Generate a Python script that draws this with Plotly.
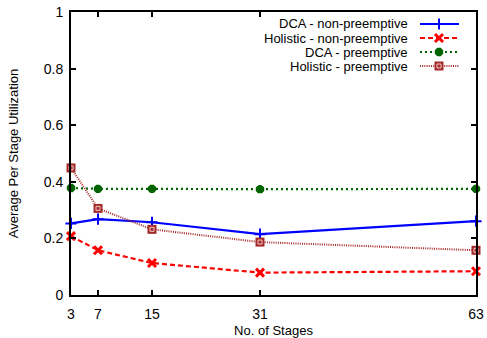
import plotly.graph_objects as go

stages = [3, 7, 15, 31, 63]
dca_nonpre = [0.253, 0.268, 0.257, 0.215, 0.261]
hol_nonpre = [0.208, 0.158, 0.113, 0.079, 0.084]
dca_pre = [0.378, 0.375, 0.375, 0.374, 0.375]
hol_pre = [0.449, 0.306, 0.232, 0.187, 0.158]
names = ["DCA - non-preemptive", "Holistic - non-preemptive",
         "DCA - preemptive", "Holistic - preemptive"]
y_ticks = [0, 0.2, 0.4, 0.6, 0.8, 1]
y_tick_text = ["0", "0.2", "0.4", "0.6", "0.8", "1"]

FONT = "Liberation Sans, Arial, sans-serif"
W, H = 487, 338
L, R, T, B = 71, 11, 12, 43

styles = [
    dict(line=dict(color="#0000ff", width=2.2),
         marker=dict(symbol="cross-thin-open", size=8, color="#0000ff",
                     line=dict(color="#0000ff", width=2))),
    dict(line=dict(color="#ff0000", width=2.2, dash="5px,3px"),
         marker=dict(symbol="x-thin-open", size=8, color="#ff0000",
                     line=dict(color="#ff0000", width=3))),
    dict(line=dict(color="#006400", width=2.2, dash="2px,3px"),
         marker=dict(symbol="asterisk-open", size=7, color="#006400",
                     line=dict(color="#006400", width=3.5))),
    dict(line=dict(color="#a52a2a", width=2, dash="1px,1.2px"),
         marker=dict(symbol="square", size=9, color="#a52a2a", line=dict(width=0))),
]
series = [dca_nonpre, hol_nonpre, dca_pre, hol_pre]
inner_box = dict(symbol="square-open", size=4, color="#f0c8c8",
                 line=dict(color="#f0c8c8", width=1))

fig = go.Figure()
for name, ys, st in zip(names, series, styles):
    fig.add_trace(go.Scatter(x=stages, y=ys, mode="lines+markers", name=name,
                             line=st["line"], marker=st["marker"], showlegend=False,
                             cliponaxis=False))
# inner light box of the brown square markers
fig.add_trace(go.Scatter(x=stages, y=hol_pre, mode="markers", showlegend=False,
                         marker=inner_box, cliponaxis=False))

# custom gnuplot-style legend (text right, sample on the right)
pw, ph = W - L - R, H - T - B
def px(x): return (x - L) / pw
def py(y): return (H - B - y) / ph
rows = [24, 38, 52, 66]
for name, st, ry in zip(names, styles, rows):
    fig.add_annotation(x=px(410), y=py(ry), xref="paper", yref="paper", text=name,
                       showarrow=False, xanchor="right", yanchor="middle",
                       font=dict(family=FONT, size=13, color="black"))
    fig.add_trace(go.Scatter(x=[px(420), px(439), px(459)], y=[py(ry)] * 3,
                             xaxis="x2", yaxis="y2", mode="lines", showlegend=False,
                             line=st["line"], hoverinfo="skip"))
    fig.add_trace(go.Scatter(x=[px(439)], y=[py(ry)], xaxis="x2", yaxis="y2",
                             mode="markers", showlegend=False, marker=st["marker"],
                             hoverinfo="skip"))
fig.add_trace(go.Scatter(x=[px(439)], y=[py(rows[3])], xaxis="x2", yaxis="y2",
                         mode="markers", showlegend=False, hoverinfo="skip",
                         marker=inner_box))

fig.update_layout(
    width=W, height=H,
    margin=dict(l=L, r=R, t=T, b=B),
    paper_bgcolor="white", plot_bgcolor="white",
    font=dict(family=FONT, size=13, color="black"),
    xaxis=dict(range=[3, 63], tickvals=stages, ticks="inside", ticklen=5,
               tickwidth=1.5, tickcolor="black", mirror="ticks", showline=True,
               linecolor="black", linewidth=2, showgrid=False, zeroline=False,
               ticklabelstandoff=5, automargin=False,
               title=dict(text="No. of Stages", font=dict(size=13), standoff=8),
               tickfont=dict(size=14)),
    yaxis=dict(range=[0, 1], tickvals=y_ticks, ticktext=y_tick_text, ticks="inside",
               ticklen=5, tickwidth=1.5, tickcolor="black", mirror="ticks",
               showline=True, linecolor="black", linewidth=2, showgrid=False,
               zeroline=False, ticklabelstandoff=3, automargin=False,
               title=dict(text="Average Per Stage Utilization", font=dict(size=13),
                          standoff=22),
               tickfont=dict(size=14)),
    xaxis2=dict(range=[0, 1], overlaying="x", visible=False, fixedrange=True),
    yaxis2=dict(range=[0, 1], overlaying="y", visible=False, fixedrange=True),
)

fig.write_html("out.html")
